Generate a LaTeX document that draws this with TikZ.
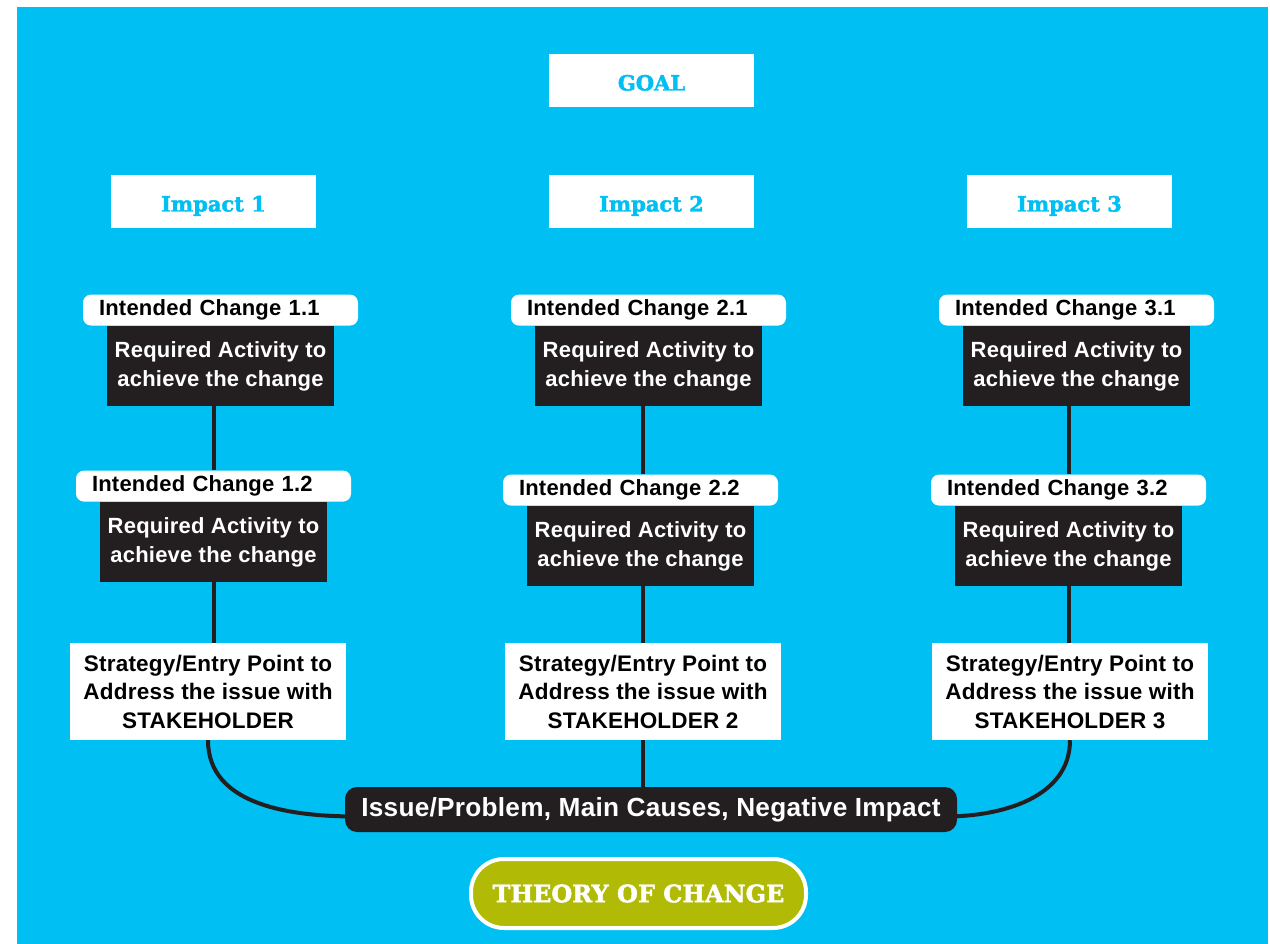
\documentclass[tikz,border=0pt]{standalone}
\usepackage{fontspec}
\setmainfont{Liberation Sans}
\newfontfamily\labelfont{Liberation Sans}[LetterSpace=1]
\newfontfamily\slabfont{DejaVu Serif}[BoldFeatures={FakeBold=2}]
\usetikzlibrary{positioning,backgrounds}
\definecolor{bgColor}{RGB}{0,191,243}
\definecolor{boxColor}{RGB}{35,31,32}
\definecolor{tocColor}{RGB}{177,187,5}

\begin{document}
\begin{tikzpicture}[x=1pt,y=-1pt]
    \tikzstyle{heading} = [rectangle,fill=white,text=bgColor,minimum width=205pt,minimum height=53pt,inner sep=0pt,text height=20pt,text depth=0pt,font=\slabfont\bfseries\fontsize{21}{25}\selectfont]
    \tikzstyle{change} = [rectangle,rounded corners=8pt,fill=white,text=black,text width=243pt,align=left,inner xsep=16pt,inner ysep=0pt,minimum height=31pt,font=\labelfont\bfseries\fontsize{22}{24}\selectfont]
    \tikzstyle{activity} = [rectangle,fill=boxColor,text=white,minimum width=227pt,minimum height=80pt,inner sep=0pt,align=center,font=\labelfont\bfseries\fontsize{22}{29}\selectfont]
    \tikzstyle{strategy} = [rectangle,fill=white,text=black,minimum width=276pt,minimum height=97pt,inner sep=0pt,align=center,font=\labelfont\bfseries\fontsize{22.5}{28.5}\selectfont]
    \tikzstyle{issue} = [rectangle,rounded corners=12pt,fill=boxColor,text=white,minimum width=612pt,minimum height=45pt,inner sep=0pt,font=\labelfont\bfseries\fontsize{26.2}{28}\selectfont]
    \tikzstyle{toc} = [rectangle,rounded corners=33pt,fill=tocColor,draw=white,line width=4pt,text=white,minimum width=335pt,minimum height=69pt,inner sep=0pt,font=\slabfont\bfseries\fontsize{24}{28}\selectfont]
    \tikzstyle{link} = [draw=boxColor,line width=4pt]

    \useasboundingbox (0,0) rectangle (1270,944);

    \node [heading] (goal) at (651.5,80.5) {GOAL};
    \node [heading] (imp1) at (213.5,201.5) {Impact 1};
    \node [heading] (imp2) at (651.5,201.5) {Impact 2};
    \node [heading] (imp3) at (1069.5,201.5) {Impact 3};

    % impact 1
    \node [activity] (act11) at (220.5,366) {Required Activity to\\achieve the change};
    \node [change, above=0pt of act11] (chg11) {Intended Change 1.1};
    \node [activity] (act12) at (213.5,542) {Required Activity to\\achieve the change};
    \node [change, above=0pt of act12] (chg12) {Intended Change 1.2};
    \node [strategy] (str1) at (208,691.5) {Strategy/Entry Point to\\Address the issue with\\STAKEHOLDER};

    % impact 2
    \node [activity] (act21) at (648.5,366) {Required Activity to\\achieve the change};
    \node [change, above=0pt of act21] (chg21) {Intended Change 2.1};
    \node [activity] (act22) at (640.5,546) {Required Activity to\\achieve the change};
    \node [change, above=0pt of act22] (chg22) {Intended Change 2.2};
    \node [strategy] (str2) at (643,691.5) {Strategy/Entry Point to\\Address the issue with\\STAKEHOLDER 2};

    % impact 3
    \node [activity] (act31) at (1076.5,366) {Required Activity to\\achieve the change};
    \node [change, above=0pt of act31] (chg31) {Intended Change 3.1};
    \node [activity] (act32) at (1068.5,546) {Required Activity to\\achieve the change};
    \node [change, above=0pt of act32] (chg32) {Intended Change 3.2};
    \node [strategy] (str3) at (1070,691.5) {Strategy/Entry Point to\\Address the issue with\\STAKEHOLDER 3};

    \node [issue] (issue) at (651,809.5) {Issue/Problem, Main Causes, Negative Impact};
    \node [toc] (toc) at (638.5,893.5) {THEORY OF CHANGE};

    \begin{scope}[on background layer]
      \fill [white] (0,0) rectangle (1270,944);
      \fill [bgColor] (17,7) rectangle (1268,944);

      \draw [link] (act11.south -| act12) -- (chg12.north -| act12);
      \draw [link] (act12.south) -- (act12.south |- str1.north);
      \draw [link] (str1.south) to[out=-90,in=180] ([xshift=12pt,yshift=-7pt]issue.west);

      \draw [link] (act21.south -| str2) -- (chg22.north -| str2);
      \draw [link] (act22.south -| str2) -- (str2.north);
      \draw [link] (str2.south) -- (str2.south |- issue.north);

      \draw [link] (act31.south -| act32) -- (chg32.north -| act32);
      \draw [link] (act32.south) -- (act32.south |- str3.north);
      \draw [link] (str3.south) to[out=-90,in=0] ([xshift=-12pt,yshift=-7pt]issue.east);
    \end{scope}
\end{tikzpicture}
\end{document}
